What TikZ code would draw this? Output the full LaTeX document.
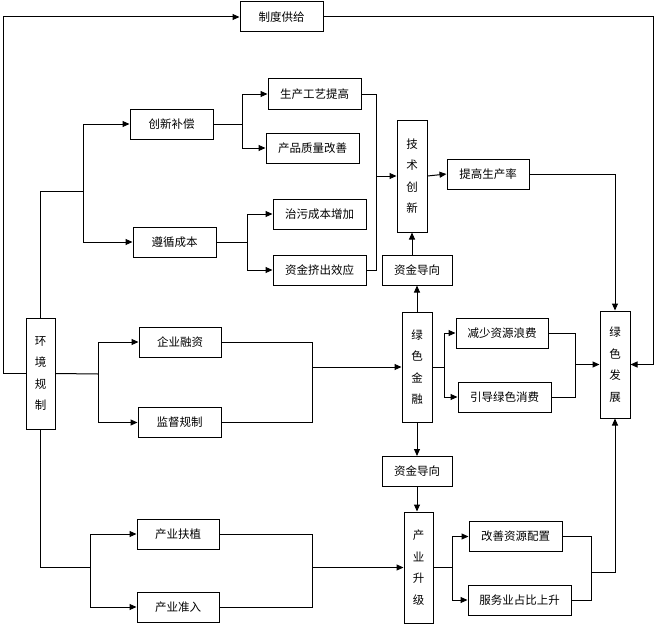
\documentclass[tikz,border=0pt]{standalone}
\usepackage{fontspec}
\newfontfamily\cjk{Noto Sans CJK SC}
\usetikzlibrary{arrows.meta}
\tikzset{
  box/.style={draw, line width=1pt, minimum height=30pt, inner sep=0pt, font=\cjk\fontsize{11.5}{13}\selectfont},
  vbox/.style={box, minimum width=30pt, align=center, font=\cjk\fontsize{11.5}{21.5}\selectfont},
  arr/.style={-{Triangle[length=7pt,width=6pt]}},
}
\begin{document}
\begin{tikzpicture}[x=1pt,y=-1pt,line width=1pt]
    \useasboundingbox (0,0) rectangle (656,626);

    \node[box, minimum width=83pt] (sup) at (281.5,17) {制度供给};
    \node[box, minimum width=83pt] (cx) at (171.5,124) {创新补偿};
    \node[box, minimum width=83pt] (zx) at (174.5,242) {遵循成本};
    \node[box, minimum width=93pt] (gy) at (314.5,94) {生产工艺提高};
    \node[box, minimum width=93pt] (zl) at (312.5,148) {产品质量改善};
    \node[box, minimum width=93pt] (zw) at (319.5,214) {治污成本增加};
    \node[box, minimum width=93pt] (jc) at (319.5,270) {资金挤出效应};
    \node[vbox, minimum height=112pt] (js) at (412,176) {技\\术\\创\\新};
    \node[box, minimum width=82pt] (tg) at (488,174) {提高生产率};
    \node[box, minimum width=70pt] (zd1) at (417,270) {资金导向};
    \node[vbox, minimum height=110pt] (lj) at (417,367) {绿\\色\\金\\融};
    \node[vbox, minimum height=107pt] (lf) at (615,364.5) {绿\\色\\发\\展};
    \node[box, minimum width=92pt] (jl) at (502,333) {减少资源浪费};
    \node[box, minimum width=93pt] (yd) at (504.5,397) {引导绿色消费};
    \node[vbox, minimum width=29pt, minimum height=111pt] (hj) at (40.5,373.5) {环\\境\\规\\制};
    \node[box, minimum width=82pt] (qy) at (180,342) {企业融资};
    \node[box, minimum width=83pt] (jd) at (179.5,422.5) {监督规制};
    \node[box, minimum width=82pt] (fz) at (178,534) {产业扶植};
    \node[box, minimum width=82pt] (zr) at (178,607) {产业准入};
    \node[box, minimum width=70pt] (zd2) at (417,471.5) {资金导向};
    \node[vbox, minimum width=29pt, minimum height=111pt] (sj) at (418.5,567.5) {产\\业\\升\\级};
    \node[box, minimum width=93pt] (gs) at (515.5,536.5) {改善资源配置};
    \node[box, minimum width=103pt] (fw) at (519.5,600) {服务业占比上升};

    \draw[arr] (hj.west) -- (3,373.5) |- (sup.west);
    \draw[arr] (sup.east) -- (653,17) |- (lf.east);

    \draw (hj.north) |- (83,191);
    \draw[arr] (83,191) |- (cx.west);
    \draw[arr] (83,191) |- (zx.west);
    \draw[arr] (cx.east) -- (242,124) |- (gy.west);
    \draw[arr] (242,124) |- (zl.west);
    \draw[arr] (zx.east) -- (247,242) |- (zw.west);
    \draw[arr] (247,242) |- (jc.west);
    \draw (gy.east) -| (376,270) -- (jc.east);
    \draw[arr] (376,176) -- (js.west);
    \draw[arr] (js.east) -- (tg.west);
    \draw[arr] (tg.east) -| (lf.north);
    \draw[arr] (js.south |- zd1.north) -- (js.south);
    \draw[arr] (lj.north) -- (zd1.south);

    \draw (hj.east) -- (98,374);
    \draw[arr] (98,374) |- (qy.west);
    \draw[arr] (98,374) |- (jd.west);
    \draw (qy.east) -| (312,422.5) -- (jd.east);
    \draw[arr] (312,367) -- (lj.west);
    \draw (lj.east) -- (444,367);
    \draw[arr] (444,367) |- (jl.west);
    \draw[arr] (444,367) |- (yd.west);
    \draw (jl.east) -| (575,397) -- (yd.east);
    \draw[arr] (575,364.5) -- (lf.west);

    \draw[arr] (lj.south) -- (zd2.north);
    \draw[arr] (zd2.south) -- (zd2.south |- sj.north);
    \draw (hj.south) |- (90,567);
    \draw[arr] (90,567) |- (fz.west);
    \draw[arr] (90,567) |- (zr.west);
    \draw (fz.east) -| (312,607) -- (zr.east);
    \draw[arr] (312,567.5) -- (sj.west);
    \draw (sj.east) -- (452,567.5);
    \draw[arr] (452,567.5) |- (gs.west);
    \draw[arr] (452,567.5) |- (fw.west);
    \draw (gs.east) -| (591,600) -- (fw.east);
    \draw[arr] (591,572) -| (lf.south);
\end{tikzpicture}
\end{document}
